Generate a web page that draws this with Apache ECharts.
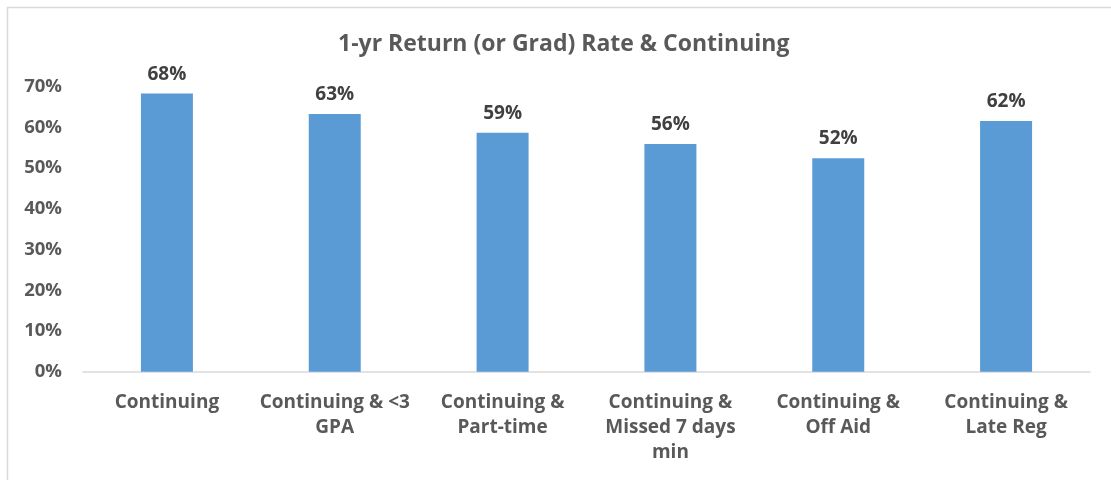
<!DOCTYPE html>
<html>
<head>
<meta charset="utf-8">
<title>1-yr Return (or Grad) Rate & Continuing</title>
<script src="https://cdn.jsdelivr.net/npm/echarts@6.0.0/dist/echarts.min.js"></script>
<style>
  html, body { margin: 0; padding: 0; background: #fff; }
  #chart { width: 1111px; height: 480px; }
</style>
</head>
<body>
<div id="chart"></div>
<script>
/* 1-yr return rate by group — bar chart */
var TITLE = "1-yr Return (or Grad) Rate & Continuing";
var CATEGORIES = [
  "Continuing",
  "Continuing & <3\nGPA",
  "Continuing &\nPart-time",
  "Continuing &\nMissed 7 days\nmin",
  "Continuing &\nOff Aid",
  "Continuing &\nLate Reg"
];
var RATES = [68.3, 63.3, 58.7, 55.9, 52.4, 61.6];   // percent
var Y_TICKS = [0, 10, 20, 30, 40, 50, 60, 70];

var FONT = "'Open Sans', 'Liberation Sans', sans-serif";
var TEXT = "#595959";

var chart = echarts.init(document.getElementById("chart"), null, { renderer: "canvas" });

chart.setOption({
  backgroundColor: "#fff",
  animation: false,
  graphic: [{
    type: "rect", silent: true,
    shape: { x: 7.5, y: 7.5, width: 1200, height: 600 },
    style: { fill: "none", stroke: "#d9d9d9", lineWidth: 1.5 }
  }],
  title: {
    text: TITLE, left: 333, top: 28,
    textStyle: { color: TEXT, fontFamily: FONT, fontSize: 23, fontWeight: "bold" }
  },
  grid: { left: 83, right: 21, top: 86.7, bottom: 108.3, containLabel: false },
  xAxis: {
    type: "category", data: CATEGORIES,
    axisLine: { lineStyle: { color: "#d9d9d9", width: 1.5 } },
    axisTick: { show: false },
    axisLabel: {
      color: TEXT, fontFamily: FONT, fontSize: 19, fontWeight: "bold",
      lineHeight: 25, margin: 18, interval: 0
    }
  },
  yAxis: {
    type: "value", min: Y_TICKS[0], max: Y_TICKS[Y_TICKS.length - 1], interval: 10,
    axisLine: { show: false }, axisTick: { show: false }, splitLine: { show: false },
    axisLabel: {
      color: TEXT, fontFamily: FONT, fontSize: 18.5, fontWeight: "bold", margin: 21,
      formatter: "{value}%"
    }
  },
  series: [{
    type: "bar", data: RATES, barWidth: 52,
    itemStyle: { color: "#5B9BD5" },
    label: {
      show: true, position: "top", distance: 10,
      color: "#404040", fontFamily: FONT, fontSize: 19, fontWeight: "bold",
      formatter: function (p) { return Math.round(p.value) + "%"; }
    }
  }]
});
</script>
</body>
</html>
